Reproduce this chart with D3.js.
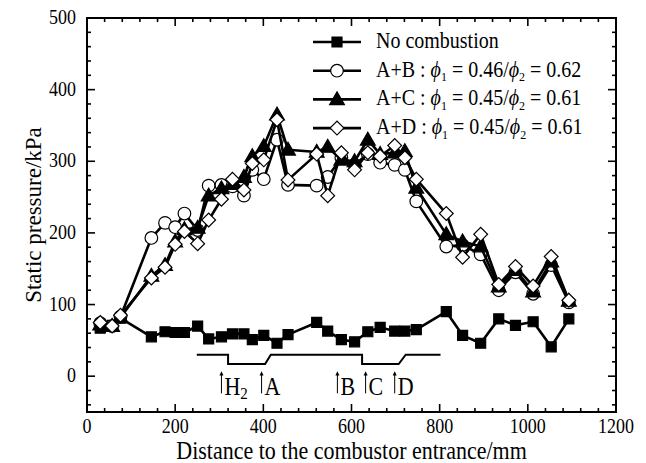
<!DOCTYPE html>
<html>
<head>
<meta charset="utf-8">
<script src="https://cdn.jsdelivr.net/npm/d3@7"></script>
<style>
  body { margin: 0; background: #fff; }
  svg { font-family: "Liberation Serif", "Times New Roman", serif; }
</style>
</head>
<body>
<svg width="646" height="463"></svg>
<script>
// measurement positions (mm) shared by all series
const positions = [30, 57, 76, 146, 177, 200, 221, 251, 276, 305, 330, 356, 375, 401, 431, 456,
    521, 546, 577, 607, 637, 665, 698, 721, 747, 815, 852, 893, 934, 972, 1012, 1053, 1093];

const noCombustion = [67, 71, 81, 55, 62, 61, 61, 70, 52, 55, 59, 59, 51, 57, 46, 58,
    75, 63, 51, 48, 62, 68, 63, 63, 65, 90, 57, 46, 80, 71, 76, 41, 80];
const caseAB = [74, 70, 83, 193, 214, 208, 227, 204, 266, 267, 265, 252, 288, 275, 330, 267,
    266, 278, 305, 295, 310, 298, 295, 288, 244, 181, 183, 170, 120, 145, 115, 155, 103];
const caseAC = [72, 70, 82, 140, 155, 188, 205, 207, 252, 262, 268, 278, 307, 321, 365, 316,
    313, 320, 302, 300, 330, 310, 312, 314, 263, 198, 188, 181, 125, 148, 118, 160, 105];
const caseAD = [75, 70, 85, 137, 152, 184, 202, 185, 218, 247, 275, 260, 297, 302, 358, 274,
    310, 252, 312, 288, 312, 307, 322, 305, 275, 227, 166, 198, 128, 153, 126, 167, 106];

const xTicks = [0, 200, 400, 600, 800, 1000, 1200];
const yTicks = [0, 100, 200, 300, 400, 500];

// combustor wall schematic and injector arrows
const wallX = [249, 320, 320, 404, 417, 624, 624, 707, 723, 802];
const wallY = [30, 30, 17, 17, 30, 30, 17, 17, 30, 30];
const injectorX = [305, 396, 568, 632, 698];
const injectorLabels = ['H', 'A', 'B', 'C', 'D'];

const series = [
    { name: 'No combustion', values: noCombustion, marker: 'square' },
    { name: ['A+B', '0.46', '0.62'], values: caseAB, marker: 'circle' },
    { name: ['A+C', '0.45', '0.61'], values: caseAC, marker: 'triangle' },
    { name: ['A+D', '0.45', '0.61'], values: caseAD, marker: 'diamond' }
];

// the source picture is a bit taller than wide, so text gets a small vertical stretch
const stretch = 1.12;

function drawChart() {
    const svg = d3.select('svg');
    const padding = { top: 18, right: 30, bottom: 51, left: 87 };
    const width = 646;
    const height = 463;

    const xScale = d3.scaleLinear()
        .domain([0, 1200])
        .range([padding.left, width - padding.right]);
    const yScale = d3.scaleLinear()
        .domain([-50, 500])
        .range([height - padding.bottom, padding.top]);

    function addText(g, x, y, size, anchor) {
        return g.append('text')
            .attr('transform', `translate(${x},${y}) scale(1,${stretch})`)
            .style('font-size', size + 'px')
            .style('text-anchor', anchor || 'start');
    }

    const symbols = {
        square: d3.symbol(d3.symbolSquare, 100),
        circle: d3.symbol(d3.symbolCircle, 125),
        triangle: d3.symbol(d3.symbolTriangle, 95),
        diamond: d3.symbol(d3.symbolSquare, 95)
    };
    const fills = { square: '#000', circle: '#fff', triangle: '#000', diamond: '#fff' };

    function drawMarker(g, type, x, y) {
        g.append('path')
            .attr('d', symbols[type]())
            .attr('transform', `translate(${x},${y})` + (type === 'diamond' ? ' rotate(45)' : '')
                + (type === 'triangle' ? ' translate(0,1)' : ''))
            .attr('fill', fills[type])
            .attr('stroke', '#000')
            .attr('stroke-width', 1.2);
    }

    // Series
    const line = d3.line()
        .x(d => xScale(d[0]))
        .y(d => yScale(d[1]));
    series.forEach(s => {
        const pts = positions.map((p, i) => [p, s.values[i]]);
        const g = svg.append('g');
        g.append('path')
            .attr('d', line(pts))
            .attr('fill', 'none')
            .attr('stroke', '#000')
            .attr('stroke-width', 2.6)
            .attr('stroke-linejoin', 'round');
        pts.forEach(d => drawMarker(g, s.marker, xScale(d[0]), yScale(d[1])));
    });

    // Schematic of the combustor wall
    svg.append('path')
        .attr('d', line(wallX.map((x, i) => [x, wallY[i]])))
        .attr('fill', 'none')
        .attr('stroke', '#000')
        .attr('stroke-width', 2);

    injectorX.forEach((x, i) => {
        const px = xScale(x);
        svg.append('line')
            .attr('x1', px).attr('x2', px)
            .attr('y1', yScale(-24)).attr('y2', yScale(5))
            .attr('stroke', '#000')
            .attr('stroke-width', 1);
        svg.append('path')
            .attr('d', `M${px - 2},${yScale(1)} L${px},${yScale(7)} L${px + 2},${yScale(1)} Z`)
            .attr('fill', '#000');
        const t = addText(svg, px + 3, yScale(-26), 22).text(injectorLabels[i]);
        if (i === 0) {
            t.append('tspan').attr('dy', 4).style('font-size', '15px').text('2');
        }
    });

    // Frame with inward ticks on all sides
    const minorX = d3.range(0, 1201, 40);
    const minorY = d3.range(-40, 501, 20);
    const frame = svg.append('g');
    frame.append('rect')
        .attr('x', padding.left)
        .attr('y', padding.top)
        .attr('width', width - padding.left - padding.right)
        .attr('height', height - padding.top - padding.bottom)
        .attr('fill', 'none')
        .attr('stroke', '#000')
        .attr('stroke-width', 2);

    const x0 = padding.left, x1 = width - padding.right;
    const y0 = height - padding.bottom, y1 = padding.top;
    minorX.forEach(v => {
        const len = v % 200 === 0 ? 8 : 4;
        const px = xScale(v);
        frame.append('line').attr('x1', px).attr('x2', px).attr('y1', y0).attr('y2', y0 - len)
            .attr('stroke', '#000').attr('stroke-width', 1.6);
        frame.append('line').attr('x1', px).attr('x2', px).attr('y1', y1).attr('y2', y1 + len)
            .attr('stroke', '#000').attr('stroke-width', 1.6);
    });
    minorY.forEach(v => {
        const len = v % 100 === 0 ? 8 : 4;
        const py = yScale(v);
        frame.append('line').attr('x1', x0).attr('x2', x0 + len).attr('y1', py).attr('y2', py)
            .attr('stroke', '#000').attr('stroke-width', 1.6);
        frame.append('line').attr('x1', x1).attr('x2', x1 - len).attr('y1', py).attr('y2', py)
            .attr('stroke', '#000').attr('stroke-width', 1.6);
    });

    // Tick labels
    xTicks.forEach(d => addText(svg, xScale(d), y0 + 21, 18, 'middle').text(d));
    yTicks.forEach(d => addText(svg, x0 - 11, yScale(d) + 6, 18, 'end').text(d));

    // Axis titles
    addText(svg, (x0 + x1) / 2, 459, 22, 'middle')
        .text('Distance to the combustor entrance/mm');
    svg.append('text')
        .text('Static pressure/kPa')
        .attr('x', -(y0 + y1) / 2)
        .attr('y', 41)
        .attr('transform', 'rotate(-90)')
        .style('text-anchor', 'middle')
        .style('font-size', '23px');

    // Legend
    const legend = svg.append('g').attr('transform', 'translate(313, 42)');
    series.forEach((s, i) => {
        const row = legend.append('g').attr('transform', `translate(0, ${i * 28.7})`);
        row.append('line')
            .attr('x1', 0).attr('x2', 48)
            .attr('stroke', '#000').attr('stroke-width', 2.6);
        drawMarker(row, s.marker, 24, 0);
        const t = addText(row, 63, 6, 20);
        if (typeof s.name === 'string') {
            t.text(s.name);
        } else {
            t.append('tspan').text(s.name[0] + ' : ');
            t.append('tspan').style('font-style', 'italic').text('ϕ');
            t.append('tspan').attr('dy', 4).style('font-size', '12px').text('1');
            t.append('tspan').attr('dy', -4).text(' = ' + s.name[1] + '/');
            t.append('tspan').style('font-style', 'italic').text('ϕ');
            t.append('tspan').attr('dy', 4).style('font-size', '12px').text('2');
            t.append('tspan').attr('dy', -4).text(' = ' + s.name[2]);
        }
    });
}

window.addEventListener('load', drawChart);
</script>
</body>
</html>
